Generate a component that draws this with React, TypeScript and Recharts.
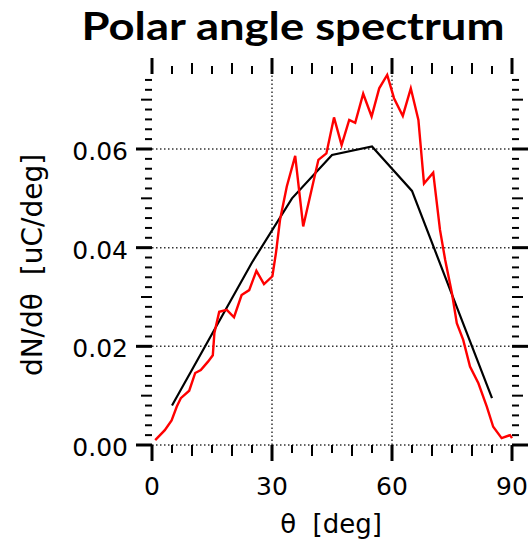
import React from 'react'
import { LineChart, Line, XAxis, YAxis, ReferenceLine } from 'recharts'

// red: measured spectrum, black: coarse 10-degree binned curve
const RED_THETA = [
  0.8, 3.2, 4.9, 6.2, 7.2, 9.3, 10.8, 12.2, 14.0, 15.2, 15.6, 16.8, 18.7, 20.5, 22.4,
  24.3, 26.1, 28.0, 30.1, 31.0, 32.0, 33.7, 35.8, 37.8, 41.6, 43.6, 45.5, 47.4, 49.3,
  50.8, 52.8, 54.9, 56.8, 58.8, 60.5, 62.7, 64.7, 66.6, 68.0, 70.3, 72.0, 73.3, 75.0,
  76.2, 77.8, 79.5, 81.6, 83.7, 85.3, 87.4, 89.5, 90.0,
]
const RED_VALUES = [
  0.001, 0.003, 0.005, 0.0078, 0.0095, 0.011, 0.0146, 0.0152, 0.0169, 0.0182, 0.0227,
  0.027, 0.0274, 0.0259, 0.0304, 0.0314, 0.0353, 0.0326, 0.0342, 0.039, 0.0456, 0.0524,
  0.0586, 0.0443, 0.0578, 0.0591, 0.0664, 0.0608, 0.0659, 0.0653, 0.0712, 0.0666,
  0.0723, 0.075, 0.0703, 0.0667, 0.0723, 0.0659, 0.053, 0.0552, 0.0436, 0.0375,
  0.0307, 0.0247, 0.0213, 0.0159, 0.0125, 0.0078, 0.0037, 0.0014, 0.002, 0.0014,
]
const BLACK_THETA = [5, 15, 25, 35, 45, 55, 65, 75, 85]
const BLACK_VALUES = [0.008, 0.0225, 0.037, 0.05, 0.0588, 0.0605, 0.0515, 0.0305, 0.0095]

const X_LABELS = [0, 30, 60, 90]
const Y_LABELS = [0, 0.02, 0.04, 0.06]
const X_GRID = [30, 60]
const Y_GRID = [0, 0.02, 0.04, 0.06]

// minor tick positions
const X_TICKS = Array.from({ length: 19 }, (_, i) => i * 5)
const Y_TICKS = Array.from({ length: 38 }, (_, i) => +(i * 0.002).toFixed(3))

const redData = RED_THETA.map((t, i) => ({ theta: t, value: RED_VALUES[i] }))
const blackData = BLACK_THETA.map((t, i) => ({ theta: t, value: BLACK_VALUES[i] }))

const FONT = '"DejaVu Sans", sans-serif'
const PLOT_W = 360
const PLOT_H = 370

const xLen = (v: number) => (v % 30 === 0 ? 16 : v % 10 === 0 ? 11 : 8)
const yLen = (v: number) => {
  const k = Math.round(v / 0.002)
  return k % 10 === 0 ? 16 : k % 5 === 0 ? 11 : 7
}

// bottom tick also draws the mirrored tick on the top edge
const BottomTick = (props: any) => {
  const { x, y, payload } = props
  const v = payload.value
  const len = xLen(v)
  const w = len > 12 ? 3 : 2
  const top = y - PLOT_H
  return (
    <g>
      <line x1={x} x2={x} y1={y} y2={y + len} stroke="#000" strokeWidth={w} />
      <line x1={x} x2={x} y1={top - len - 1} y2={top - 1} stroke="#000" strokeWidth={w} />
      {X_LABELS.includes(v) && (
        <text x={x} y={y + 50} textAnchor="middle" fontSize={25} fontFamily={FONT} fill="#000">
          {v}
        </text>
      )}
    </g>
  )
}

// left tick also draws the mirrored tick on the right edge
const LeftTick = (props: any) => {
  const { x, y, payload } = props
  const v = payload.value
  const len = yLen(v)
  const w = len > 12 ? 3 : 2
  const right = x + PLOT_W
  const labelled = Y_LABELS.some((l) => Math.abs(l - v) < 1e-6)
  return (
    <g>
      <line x1={x - len} x2={x} y1={y} y2={y} stroke="#000" strokeWidth={w} />
      <line x1={right} x2={right + len} y1={y} y2={y} stroke="#000" strokeWidth={w} />
      {labelled && (
        <text x={x - 24} y={y + 11} textAnchor="end" fontSize={25} fontFamily={FONT} fill="#000">
          {v.toFixed(2)}
        </text>
      )}
    </g>
  )
}

export default function App() {
  return (
    <div style={{ position: 'absolute', left: 0, top: 0, width: 529, height: 553, background: '#fff' }}>
      <LineChart width={529} height={553} margin={{ top: 75, right: 17, bottom: 0, left: 0 }}>
        <XAxis
          xAxisId="b"
          type="number"
          dataKey="theta"
          domain={[0, 90]}
          ticks={X_TICKS}
          interval={0}
          height={108}
          axisLine={false}
          tickLine={false}
          tickSize={0}
          tickMargin={0}
          tick={BottomTick}
        />
        <YAxis
          yAxisId="l"
          type="number"
          domain={[0, 0.075]}
          ticks={Y_TICKS}
          interval={0}
          width={152}
          axisLine={false}
          tickLine={false}
          tickSize={0}
          tickMargin={0}
          tick={LeftTick}
        />
        {X_GRID.map((g) => (
          <ReferenceLine key={`gx-${g}`} xAxisId="b" yAxisId="l" x={g} stroke="#333" strokeWidth={1.5} strokeDasharray="1.5 2.5" />
        ))}
        {Y_GRID.map((g) => (
          <ReferenceLine key={`gy-${g}`} xAxisId="b" yAxisId="l" y={g} stroke="#333" strokeWidth={1.5} strokeDasharray="1.5 2.5" />
        ))}
        <Line
          xAxisId="b"
          yAxisId="l"
          data={blackData}
          dataKey="value"
          type="linear"
          stroke="#000"
          strokeWidth={2.2}
          dot={false}
          isAnimationActive={false}
        />
        <Line
          xAxisId="b"
          yAxisId="l"
          data={redData}
          dataKey="value"
          type="linear"
          stroke="#ff0000"
          strokeWidth={2.4}
          dot={false}
          isAnimationActive={false}
        />
      </LineChart>
      <svg width={529} height={553} style={{ position: 'absolute', left: 0, top: 0, pointerEvents: 'none' }}>
        <text
          x={293}
          y={40}
          textAnchor="middle"
          fontSize={39}
          fontWeight="bold"
          fontFamily="Lato, sans-serif"
          textLength={423}
          lengthAdjust="spacingAndGlyphs"
        >
          Polar angle spectrum
        </text>
        <text x={331} y={533} textAnchor="middle" fontSize={26} fontFamily={FONT} style={{ whiteSpace: 'pre' }}>
          θ  [deg]
        </text>
        <text
          x={42}
          y={265}
          transform="rotate(-90 42 265)"
          textAnchor="middle"
          fontSize={28}
          fontFamily={FONT}
          style={{ whiteSpace: 'pre' }}
        >
          dN/dθ  [uC/deg]
        </text>
      </svg>
    </div>
  )
}
